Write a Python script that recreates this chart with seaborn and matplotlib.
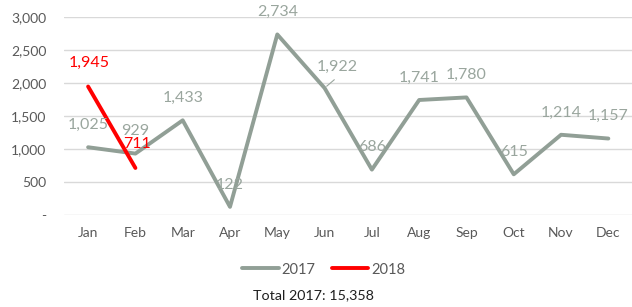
import matplotlib

matplotlib.use("Agg")

import matplotlib.pyplot as plt
import pandas as pd
import seaborn as sns
from matplotlib.ticker import FuncFormatter

MONTHS = ["Jan", "Feb", "Mar", "Apr", "May", "Jun", "Jul", "Aug", "Sep", "Oct", "Nov", "Dec"]
SALES_2017 = [1025, 929, 1433, 122, 2734, 1922, 686, 1741, 1780, 615, 1214, 1157]
MONTHS_2018 = ["Jan", "Feb"]
SALES_2018 = [1945, 711]
YEARS = ["2017", "2018"]
COLORS = {"2017": "#919F96", "2018": "#FF0000"}
TOTAL_LABEL = "Total 2017: 15,358"


def build_frame() -> pd.DataFrame:
    a = pd.DataFrame({"month": MONTHS, "value": SALES_2017, "year": "2017"})
    b = pd.DataFrame({"month": MONTHS_2018, "value": SALES_2018, "year": "2018"})
    return pd.concat([a, b], ignore_index=True)


def fmt(v, _pos=None) -> str:
    return "-" if v == 0 else f"{int(v):,}"


def main() -> None:
    sns.set_theme(style="white")
    plt.rcParams["font.family"] = ["Lato", "DejaVu Sans"]

    df = build_frame()
    fig = plt.figure(figsize=(6.32, 3.07), dpi=100)
    ax = fig.add_axes([0.102, 0.30, 0.898, 0.645])

    sns.lineplot(
        data=df, x="month", y="value", hue="year", hue_order=YEARS,
        palette=COLORS, sort=False, linewidth=2.8, ax=ax, legend=True,
    )

    ax.set_xlim(-0.5, len(MONTHS) - 0.5)
    ax.set_ylim(0, 3000)
    ax.set_yticks(range(0, 3001, 500))
    ax.yaxis.set_major_formatter(FuncFormatter(fmt))
    ax.set_xlabel("")
    ax.set_ylabel("")
    for s in ax.spines.values():
        s.set_visible(False)
    ax.grid(True, axis="y", color="#D9D9D9", linewidth=1.0)
    ax.set_axisbelow(True)
    ax.tick_params(axis="y", pad=13, labelsize=10, colors="#595959", length=0)
    ax.tick_params(axis="x", pad=9, labelsize=10, colors="#595959", length=0)

    # data labels
    for i, v in enumerate(SALES_2017):
        dx = 0
        if MONTHS[i] == "Jun":
            dx = 9
        ax.annotate(fmt(v), (i, v), xytext=(dx, 16 if dx == 0 else 15), textcoords="offset points",
                    ha="center", va="center", fontsize=11.5, color="#9AA69E")
    ax.annotate("", xy=(5, SALES_2017[5]), xytext=(7, 6), textcoords="offset points",
                arrowprops=dict(arrowstyle="-", color="#9AA69E", lw=0.8, shrinkA=0, shrinkB=2))
    for m, v in zip(MONTHS_2018, SALES_2018):
        i = MONTHS.index(m)
        ax.annotate(fmt(v), (i, v), xytext=(1, 17), textcoords="offset points",
                    ha="center", va="center", fontsize=11.5, color="#FF0000")

    handles, labels = ax.get_legend_handles_labels()
    ax.get_legend().remove()
    fig.legend(handles, labels, loc="center", bbox_to_anchor=(0.512, 0.122), ncol=2,
               frameon=False, fontsize=10.5, handlelength=2.5, handletextpad=0.2,
               columnspacing=1.1, labelcolor="#595959")
    fig.text(0.496, 0.04, TOTAL_LABEL, ha="center", va="center", fontsize=10.3, color="#1F1F1F")

    fig.savefig("out.png", dpi=100)
    plt.close(fig)


if __name__ == "__main__":
    main()
